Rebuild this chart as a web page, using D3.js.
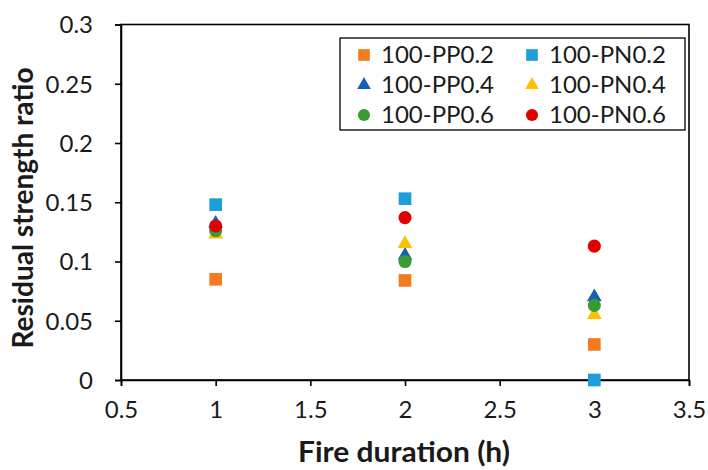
<!DOCTYPE html>
<html>
<head>
<meta charset="utf-8">
<script src="https://cdn.jsdelivr.net/npm/d3@7"></script>
<style>
  html, body { margin: 0; padding: 0; background: #fff; }
  svg { display: block; font-family: Lato, "Open Sans", sans-serif; }
</style>
</head>
<body>
<svg id="chart" width="708" height="470"></svg>
<script>
// Fire duration (h) at which each specimen group was tested
const durations = [1, 2, 3];

// Residual strength ratio per group
const series = ["100-PP0.2", "100-PN0.2", "100-PP0.4", "100-PN0.4", "100-PP0.6", "100-PN0.6"];
const pp02 = [0.085, 0.084, 0.030];
const pn02 = [0.148, 0.153, 0.000];
const pp04 = [0.132, 0.105, 0.070];
const pn04 = [0.123, 0.115, 0.055];
const pp06 = [0.126, 0.100, 0.063];
const pn06 = [0.130, 0.137, 0.113];
const values = [pp02, pn02, pp04, pn04, pp06, pn06];

const colors = ["#F47B20", "#1E9DDB", "#1560B5", "#FFC000", "#3A9B35", "#E00000"];
const shapes = [d3.symbolSquare, d3.symbolSquare, d3.symbolTriangle, d3.symbolTriangle, d3.symbolCircle, d3.symbolCircle];
const shapeSize = { square: 160, triangle: 95, circle: 135 };

const xTicks = [0.5, 1, 1.5, 2, 2.5, 3, 3.5];
const yTicks = [0, 0.05, 0.1, 0.15, 0.2, 0.25, 0.3];

const svg = d3.select("#chart");
const plotLeft = 121, plotRight = 689, plotTop = 24.5, plotBottom = 380;

const x = d3.scaleLinear().domain([0.5, 3.5]).range([plotLeft, plotRight]);
const y = d3.scaleLinear().domain([0, 0.3]).range([plotBottom, plotTop]);

function sizeFor(shape) {
  if (shape === d3.symbolSquare) return shapeSize.square;
  if (shape === d3.symbolTriangle) return shapeSize.triangle;
  return shapeSize.circle;
}

// Plot frame
svg.append("rect")
  .attr("x", plotLeft).attr("y", plotTop)
  .attr("width", plotRight - plotLeft).attr("height", plotBottom - plotTop)
  .attr("fill", "none").attr("stroke", "#000").attr("stroke-width", 1.6);

// Axes
const xAxis = svg.append("g")
  .attr("transform", `translate(0,${plotBottom})`)
  .call(d3.axisBottom(x).tickValues(xTicks).tickSize(6).tickPadding(15)
    .tickFormat(d => String(d)));
const yAxis = svg.append("g")
  .attr("transform", `translate(${plotLeft},0)`)
  .call(d3.axisLeft(y).tickValues(yTicks).tickSize(6).tickPadding(22)
    .tickFormat(d => String(d)));

[xAxis, yAxis].forEach(g => {
  g.select(".domain").attr("stroke", "#000").attr("stroke-width", 1.6);
  g.selectAll(".tick line").attr("stroke", "#000").attr("stroke-width", 1.6);
  g.selectAll(".tick text").attr("fill", "#1a1a1a").style("font-size", "24px")
    .style("font-family", "Lato, 'Open Sans', sans-serif");
});
yAxis.selectAll(".tick text").attr("dy", "0.35em");

// Axis titles
svg.append("text")
  .attr("x", 404).attr("y", 462)
  .attr("text-anchor", "middle")
  .attr("textLength", 212).attr("lengthAdjust", "spacingAndGlyphs")
  .style("font-size", "28px").style("font-weight", "bold").attr("fill", "#1a1a1a")
  .text("Fire duration (h)");

svg.append("text")
  .attr("transform", "translate(33,208) rotate(-90)")
  .attr("text-anchor", "middle")
  .attr("textLength", 281).attr("lengthAdjust", "spacingAndGlyphs")
  .style("font-size", "28px").style("font-weight", "bold").attr("fill", "#1a1a1a")
  .text("Residual strength ratio");

// Data markers
series.forEach((name, i) => {
  const sym = d3.symbol().type(shapes[i]).size(sizeFor(shapes[i]));
  svg.append("g").selectAll("path")
    .data(values[i].map((v, j) => ({ t: durations[j], v })))
    .join("path")
    .attr("d", sym)
    .attr("transform", d => `translate(${x(d.t)},${y(d.v)})`)
    .attr("fill", colors[i]);
});

// Legend
const legend = svg.append("g");
legend.append("rect")
  .attr("x", 340).attr("y", 38).attr("width", 345).attr("height", 92)
  .attr("fill", "#fff").attr("stroke", "#000").attr("stroke-width", 1.3);

series.forEach((name, i) => {
  const col = i % 2, row = Math.floor(i / 2);
  const mx = col === 0 ? 364 : 532;
  const my = 55 + row * 30;
  legend.append("path")
    .attr("d", d3.symbol().type(shapes[i]).size(sizeFor(shapes[i]) * 0.85)())
    .attr("transform", `translate(${mx},${my})`)
    .attr("fill", colors[i]);
  legend.append("text")
    .attr("x", mx + 17).attr("y", my).attr("dy", "0.35em")
    .style("font-size", "24px").attr("fill", "#1a1a1a")
    .text(name);
});
</script>
</body>
</html>
